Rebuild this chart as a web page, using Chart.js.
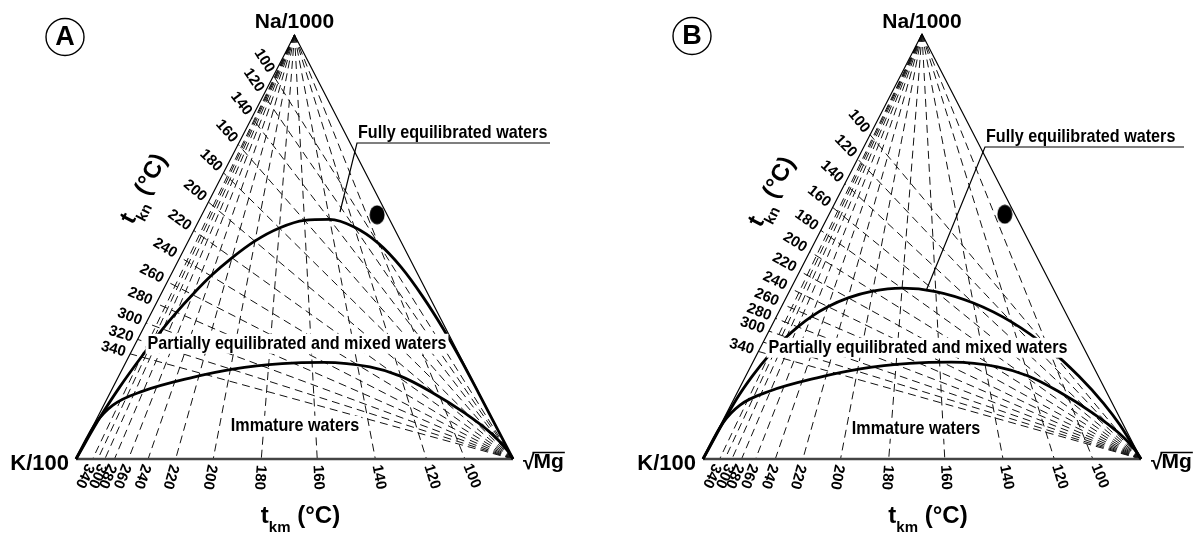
<!DOCTYPE html>
<html>
<head>
<meta charset="utf-8">
<script src="https://cdn.jsdelivr.net/npm/chart.js@4.4.0/dist/chart.umd.min.js"></script>
<style>
html, body { margin: 0; padding: 0; background: #fff; }
#wrap { position: relative; width: 1201px; height: 534px; }
canvas { position: absolute; top: 0; }
</style>
</head>
<body>
<div id="wrap">
  <canvas id="chartA" width="600" height="534" style="left:0"></canvas>
  <canvas id="chartB" width="601" height="534" style="left:600px"></canvas>
</div>
<script>
// isotherm temperatures (°C), shared by both diagrams
const isoTemps = [100, 120, 140, 160, 180, 200, 220, 240, 260, 280, 300, 320, 340];
// t_km isotherms: share of sqrt(Mg) where each line meets the K-Mg base
const kmBase = [0.890, 0.802, 0.685, 0.552, 0.424, 0.314, 0.228, 0.165, 0.120, 0.088, 0.066, 0.050, 0.038];
const kmUnlabeled = [320];
// t_kn isotherms: share of Na where each line meets the K-Na side
const knSideA = [0.904, 0.859, 0.805, 0.742, 0.675, 0.606, 0.539, 0.476, 0.418, 0.367, 0.321, 0.282, 0.248];
const knSideB = [0.763, 0.706, 0.648, 0.592, 0.538, 0.488, 0.442, 0.401, 0.364, 0.331, 0.301, 0.275, 0.253];
const knUnlabeledB = [320];

// curves as [Na/1000, K/100, sqrt(Mg)] in %
const fullEqA = [
  [0, 100, 0], [10.0, 89.4, 0.6], [16.9, 81.6, 1.5], [24.0, 73.1, 2.9], [30.7, 64.8, 4.5],
  [34.6, 59.7, 5.7], [38.8, 53.9, 7.3], [43.2, 47.5, 9.3], [47.5, 40.5, 12.0], [51.4, 33.4, 15.2],
  [54.5, 26.2, 19.3], [56.3, 19.6, 24.1], [56.5, 13.7, 29.8], [54.7, 9.0, 36.3], [50.9, 5.4, 43.7],
  [45.3, 3.0, 51.7], [38.3, 1.5, 60.2], [30.6, 0.6, 68.8], [22.7, 0.2, 77.1], [15.6, 0.1, 84.3],
  [0, 0, 100]
];
const fullEqB = [
  [0, 100, 0], [14.0, 85.4, 0.6], [19.5, 79.0, 1.5], [24.5, 72.6, 2.9], [28.7, 66.6, 4.7],
  [31.1, 62.8, 6.1], [33.5, 58.5, 8.0], [35.8, 53.6, 10.6], [37.9, 47.9, 14.2], [39.5, 41.5, 19.0],
  [40.2, 34.5, 25.3], [39.4, 27.2, 33.4], [36.7, 19.9, 43.4], [32.2, 13.4, 54.4], [26.1, 8.1, 65.8],
  [19.4, 4.4, 76.2], [13.1, 2.0, 84.9], [8.0, 0.8, 91.2], [0, 0, 100]
];
const immature = [
  [0, 100, 0], [8.5, 91.2, 0.3], [12.7, 85.2, 2.1], [16.0, 76.7, 7.3], [19.1, 64.4, 16.5],
  [21.2, 53.5, 25.3], [22.5, 41.6, 35.9], [22.8, 31.9, 45.3], [21.7, 21.9, 56.4], [19.6, 16.1, 64.3],
  [16.0, 11.0, 73.0], [10.8, 5.6, 83.6], [6.1, 2.0, 91.9], [2.1, 0.3, 97.6], [0, 0, 100]
];
const sample = [57.6, 2.3, 40.1];

const FONT = '"Liberation Sans", Arial, Helvetica, sans-serif';
const NA = { x: 0.5, y: 1 }, K = { x: 0, y: 0 }, MG = { x: 1, y: 0 };

function tern(p) {
  const s = p[0] + p[1] + p[2];
  return { x: (p[2] + 0.5 * p[0]) / s, y: p[0] / s };
}

function seg(data, width, color, dash, extra) {
  return Object.assign({
    data: data, showLine: true, borderColor: color, borderWidth: width,
    borderDash: dash || [], pointRadius: 0, pointHoverRadius: 0, fill: false, tension: 0
  }, extra || {});
}

// slightly tall black dot used as the sample marker
function dotImage() {
  const c = document.createElement('canvas');
  c.width = 16; c.height = 20;
  const g = c.getContext('2d');
  g.fillStyle = '#000';
  g.beginPath();
  g.ellipse(8, 10, 7.5, 9.5, 0, 0, Math.PI * 2);
  g.fill();
  return c;
}

function txt(ctx, s, x, y, size, o) {
  o = o || {};
  ctx.save();
  ctx.translate(x, y);
  if (o.rot) ctx.rotate(o.rot);
  ctx.scale(o.sx || 1, 1);
  ctx.font = 'bold ' + size + 'px ' + FONT;
  ctx.textAlign = o.align || 'left';
  ctx.textBaseline = o.base || 'alphabetic';
  ctx.fillText(s, 0, 0);
  ctx.restore();
}

function boxedLabel(ctx, s, cx, y, size, sx) {
  ctx.save();
  ctx.font = 'bold ' + size + 'px ' + FONT;
  const w = ctx.measureText(s).width * sx;
  ctx.fillStyle = '#fff';
  ctx.fillRect(cx - w / 2 - 2, y - size * 0.8, w + 4, size * 1.05);
  ctx.restore();
  txt(ctx, s, cx, y, size, { align: 'center', sx: sx });
}

// "t" + subscript + " (°C)", centred at 0,0 in current frame
function tempTitle(ctx, sub) {
  ctx.font = 'bold 24px ' + FONT;
  const w1 = ctx.measureText('t').width;
  const w3 = ctx.measureText(' (°C)').width;
  ctx.font = 'bold 15px ' + FONT;
  const w2 = ctx.measureText(sub).width;
  let x = -(w1 + w2 + w3) / 2;
  ctx.textAlign = 'left';
  ctx.textBaseline = 'alphabetic';
  ctx.font = 'bold 24px ' + FONT;
  ctx.fillText('t', x, 0); x += w1;
  ctx.font = 'bold 15px ' + FONT;
  ctx.fillText(sub, x, 9); x += w2;
  ctx.font = 'bold 24px ' + FONT;
  ctx.fillText(' (°C)', x, 0);
}

function textPlugin(P) {
  return {
    id: 'ternText' + P.letter,
    afterDatasetsDraw(chart) {
      const ctx = chart.ctx, sx = chart.scales.x, sy = chart.scales.y;
      const px = p => ({ x: sx.getPixelForValue(p.x), y: sy.getPixelForValue(p.y) });
      const na = px(NA), k = px(K), mg = px(MG);
      ctx.save();
      ctx.fillStyle = '#000';
      ctx.strokeStyle = '#000';

      // base tick labels (t_km)
      isoTemps.forEach((t, i) => {
        if (kmUnlabeled.indexOf(t) >= 0) return;
        const q = px({ x: kmBase[i], y: 0 });
        const dx = q.x - na.x, dy = q.y - na.y, L = Math.hypot(dx, dy);
        const ux = dx / L, uy = dy / L;
        txt(ctx, String(t), q.x + 6 * ux, q.y + 6 * uy, 15, { rot: Math.atan2(uy, ux), base: 'middle' });
      });
      // side tick labels (t_kn)
      isoTemps.forEach((t, i) => {
        if (P.skip.indexOf(t) >= 0) return;
        const f = P.knSide[i];
        const p = px({ x: 0.5 * f, y: f });
        const dx = mg.x - p.x, dy = mg.y - p.y, L = Math.hypot(dx, dy);
        const ux = dx / L, uy = dy / L;
        txt(ctx, String(t), p.x - 5 * ux, p.y - 5 * uy, 15, { rot: Math.atan2(uy, ux), align: 'right', base: 'middle' });
      });

      // vertex labels
      txt(ctx, 'Na/1000', na.x, 28, 21, { align: 'center' });
      txt(ctx, 'K/100', k.x - 7, 470, 22, { align: 'right' });
      ctx.font = 'bold 21px ' + FONT;
      const wr = ctx.measureText('\u221A').width, wm = ctx.measureText('Mg').width;
      const mx0 = mg.x + 10;
      txt(ctx, '\u221A', mx0, 469, 21);
      txt(ctx, 'Mg', mx0 + wr - 1, 468, 21);
      ctx.lineWidth = 1.6;
      ctx.beginPath();
      ctx.moveTo(mx0 + wr - 2, 452.5);
      ctx.lineTo(mx0 + wr + wm, 452.5);
      ctx.stroke();

      // axis titles
      ctx.save();
      ctx.translate((k.x + mg.x) / 2 + 6, 523);
      tempTitle(ctx, 'km');
      ctx.restore();
      ctx.save();
      ctx.translate(P.knTitle[0], P.knTitle[1]);
      ctx.rotate(Math.atan2(na.y - k.y, na.x - k.x));
      tempTitle(ctx, 'kn');
      ctx.restore();

      // panel letter
      ctx.lineWidth = 1.4;
      ctx.beginPath();
      ctx.ellipse(P.letterPos[0], P.letterPos[1], 19, 18.5, 0, 0, Math.PI * 2);
      ctx.stroke();
      txt(ctx, P.letter, P.letterPos[0], P.letterPos[1] + 1, 27, { align: 'center', base: 'middle' });

      // region labels
      const fe = P.fully;
      txt(ctx, 'Fully equilibrated waters', fe.x + 1, fe.y - 5, 19, { sx: 0.85 });
      ctx.lineWidth = 1.2;
      ctx.beginPath();
      ctx.moveTo(fe.x + fe.w, fe.y);
      ctx.lineTo(fe.x, fe.y);
      ctx.lineTo(fe.tx, fe.ty);
      ctx.stroke();
      boxedLabel(ctx, 'Partially equilibrated and mixed waters', P.partial[0], P.partial[1], 19, 0.85);
      boxedLabel(ctx, 'Immature waters', P.immat[0], P.immat[1], 19, 0.85);
      ctx.restore();
    }
  };
}

function makeChart(P) {
  // data unit -> pixel mapping so that K, Mg and Na land on the triangle corners
  const spanX = P.mgX - P.kX, spanY = P.base - P.apex;
  const xmin = -P.kX / spanX, xmax = xmin + P.w / spanX;
  const ymax = P.base / spanY, ymin = ymax - 534 / spanY;

  const datasets = [];
  datasets.push({ data: [tern(sample)], showLine: false, pointStyle: dotImage(), pointRadius: 10,
    pointHoverRadius: 10, backgroundColor: '#000', borderWidth: 0 });
  datasets.push(seg(P.fullEq.map(tern), 2.8, '#000', [], { cubicInterpolationMode: 'monotone' }));
  datasets.push(seg(immature.map(tern), 2.8, '#000', [], { cubicInterpolationMode: 'monotone' }));
  datasets.push(seg([K, NA, MG], 1.2, '#000'));
  datasets.push(seg([K, MG], 2.6, '#444'));
  kmBase.forEach(g => datasets.push(seg([NA, { x: g, y: 0 }], 1, '#111', [8, 5])));
  P.knSide.forEach(f => datasets.push(seg([MG, { x: 0.5 * f, y: f }], 1, '#111', [8, 5])));

  return new Chart(document.getElementById(P.canvas), {
    type: 'scatter',
    data: { datasets: datasets },
    options: {
      responsive: false, animation: false, events: [],
      layout: { padding: 0, autoPadding: false },
      plugins: { legend: { display: false }, tooltip: { enabled: false } },
      scales: {
        x: { type: 'linear', display: false, min: xmin, max: xmax },
        y: { type: 'linear', display: false, min: ymin, max: ymax }
      }
    },
    plugins: [textPlugin(P)]
  });
}

makeChart({
  canvas: 'chartA', letter: 'A', w: 600, kX: 76, mgX: 513, apex: 35, base: 459,
  knSide: knSideA, fullEq: fullEqA, skip: [],
  letterPos: [65, 37], knTitle: [150, 192],
  fully: { x: 357, y: 143, w: 193, tx: 340, ty: 212 },
  partial: [297, 349], immat: [295, 431]
});
makeChart({
  canvas: 'chartB', letter: 'B', w: 601, kX: 103, mgX: 541, apex: 34, base: 459,
  knSide: knSideB, fullEq: fullEqB, skip: knUnlabeledB,
  letterPos: [92, 36], knTitle: [178, 195],
  fully: { x: 385, y: 147, w: 199, tx: 326, ty: 291 },
  partial: [318, 353], immat: [316, 434]
});
</script>
</body>
</html>
